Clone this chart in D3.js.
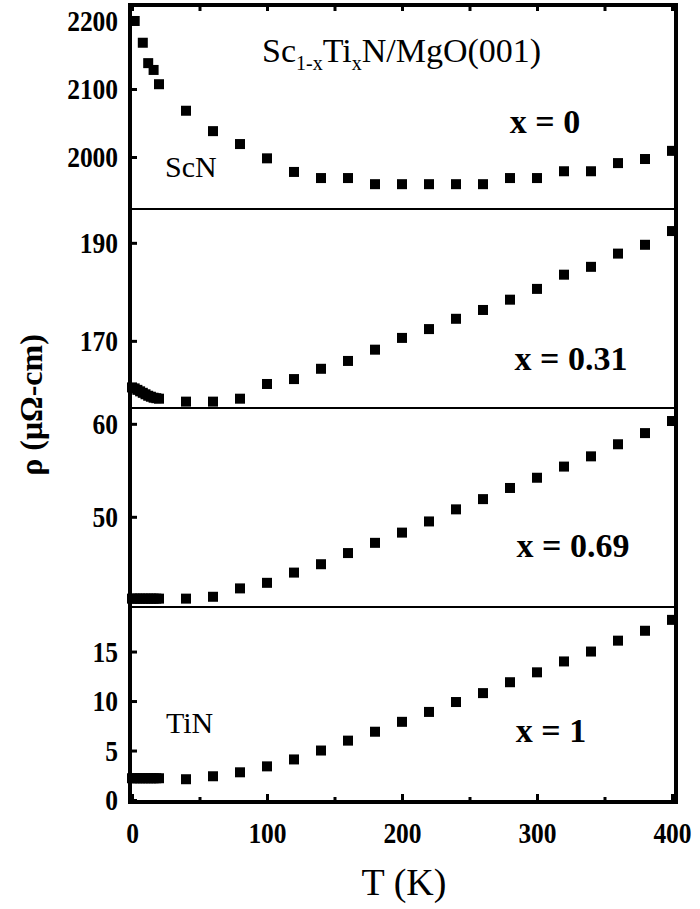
<!DOCTYPE html>
<meta charset="utf-8">
<style>
body{
    margin:0;
    background:#fff;
}
svg text{
    font-family: "Liberation Serif", "DejaVu Serif", serif;
    fill:#000;
}
.tick text{
    font-weight:bold;
    font-size:30px;
}
.tick line{
    stroke:#000;
    stroke-width:3;
}
.frame{
    fill:none;
    stroke:#000;
    stroke-width:4;
}
.divider{
    stroke:#000;
    stroke-width:2;
}
.pt{
    fill:#000;
}
</style>
<svg width="700" height="909"></svg>
<script src="https://d3js.org/d3.v7.min.js"></script>
<script>

// x = 0 (ScN)
var tempScN = [2, 8, 12, 16, 20, 40, 60, 80, 100, 120, 140, 160, 180, 200, 220, 240, 260, 280, 300, 320, 340, 360, 380, 400];
var rhoScN  = [2200, 2168, 2138, 2128, 2107, 2068, 2038, 2019, 1998, 1978, 1969, 1969, 1960, 1960, 1960, 1960, 1960, 1969, 1969, 1979, 1979, 1991, 1997, 2009];

// shared temperature grid for the three alloy / TiN films
var tempFilm = [0, 2, 4, 6, 8, 10, 12, 14, 16, 18, 20, 40, 60, 80, 100, 120, 140, 160, 180, 200, 220, 240, 260, 280, 300, 320, 340, 360, 380, 400];
var rho031 = [160.5, 160.3, 160.0, 159.7, 159.4, 159.1, 158.8, 158.6, 158.4, 158.3, 158.2, 157.6, 157.6, 158.2, 161.2, 162.2, 164.3, 165.9, 168.2, 170.6, 172.4, 174.5, 176.3, 178.4, 180.6, 183.5, 185.1, 187.8, 189.6, 192.4];
var rho069 = [41.2, 41.2, 41.2, 41.2, 41.2, 41.2, 41.2, 41.2, 41.2, 41.2, 41.2, 41.2, 41.4, 42.3, 42.9, 44.0, 44.9, 46.1, 47.2, 48.3, 49.5, 50.8, 51.9, 53.1, 54.2, 55.4, 56.5, 57.8, 59.0, 60.3];
var rhoTiN = [2.2, 2.2, 2.2, 2.2, 2.2, 2.2, 2.2, 2.2, 2.2, 2.2, 2.2, 2.1, 2.4, 2.8, 3.4, 4.1, 5.0, 6.0, 6.9, 7.9, 8.9, 9.9, 10.8, 11.9, 12.9, 14.0, 15.0, 16.1, 17.1, 18.2];

var xTicks = [0, 100, 200, 300, 400];
var xMinor = [50, 150, 250, 350];
var panelTicks = [[2000, 2100, 2200], [170, 190], [50, 60], [0, 5, 10, 15]];
var panelDomains = [[1923.5, 2223.5], [156.3, 196.9], [40.3, 61.7], [-0.2, 19.5]];
var panelLabels = ['x = 0', 'x = 0.31', 'x = 0.69', 'x = 1'];

var svg = d3.select('svg');

var mLeft = 130, mRight = 676, mTop = 5, mBottom = 802;
var dividers = [mTop, 209, 408, 607, mBottom];
var sq = 10;

var x = d3.scaleLinear().domain([0, 400]).range([132, 672]);

var series = [
    {t: tempScN, r: rhoScN},
    {t: tempFilm, r: rho031},
    {t: tempFilm, r: rho069},
    {t: tempFilm, r: rhoTiN}
];

series.forEach(function(s, i){
    var y = d3.scaleLinear()
        .domain(panelDomains[i])
        .range([dividers[i+1], dividers[i]]);

    var ax = svg.append('g')
        .attr('class', 'y-axis')
        .attr('transform', 'translate(' + mLeft + ',0)')
        .call(d3.axisLeft(y).tickValues(panelTicks[i]).tickSize(-7).tickPadding(14).tickFormat(d3.format('d')));
    ax.select('.domain').remove();
    ax.selectAll('text').attr('transform', 'scale(0.85,1)');

    var pts = s.t.map(function(t, j){ return {t: t, r: s.r[j]}; });
    svg.append('g')
        .selectAll('rect')
        .data(pts)
        .enter()
        .append('rect')
            .attr('class', 'pt')
            .attr('x', function(d){ return x(d.t) - sq/2; })
            .attr('y', function(d){ return y(d.r) - sq/2; })
            .attr('width', sq)
            .attr('height', sq);
});

// bottom axis, ticks pointing in
var xb = svg.append('g')
    .attr('transform', 'translate(0,' + mBottom + ')')
    .call(d3.axisBottom(x).tickValues(xTicks).tickSize(-8).tickPadding(20));
xb.select('.domain').remove();
xb.selectAll('text').attr('transform', 'scale(0.85,1)');

var xbm = svg.append('g')
    .attr('transform', 'translate(0,' + mBottom + ')')
    .call(d3.axisBottom(x).tickValues(xMinor).tickSize(-5).tickFormat(''));
xbm.select('.domain').remove();

// top frame ticks
var xt = svg.append('g')
    .attr('transform', 'translate(0,' + mTop + ')')
    .call(d3.axisTop(x).tickValues(xTicks.concat(xMinor)).tickSize(-6).tickFormat(''));
xt.select('.domain').remove();

svg.append('rect')
    .attr('class', 'frame')
    .attr('x', mLeft)
    .attr('y', mTop)
    .attr('width', mRight - mLeft)
    .attr('height', mBottom - mTop);

svg.selectAll('line.divider')
    .data(dividers.slice(1, 4))
    .enter()
    .append('line')
        .attr('class', 'divider')
        .attr('x1', mLeft)
        .attr('x2', mRight)
        .attr('y1', function(d){ return d; })
        .attr('y2', function(d){ return d; });

// panel labels
var labelPos = [[545, 133], [571, 370], [573, 557], [551, 742]];
svg.selectAll('text.xlab')
    .data(panelLabels)
    .enter()
    .append('text')
        .attr('class', 'xlab')
        .attr('text-anchor', 'middle')
        .attr('font-size', 34)
        .attr('font-weight', 'bold')
        .attr('transform', function(d, i){ return 'translate(' + labelPos[i][0] + ',' + labelPos[i][1] + ')'; })
        .text(function(d){ return d; });

svg.append('text')
    .attr('font-size', 30)
    .attr('x', 165)
    .attr('y', 177)
    .text('ScN');

svg.append('text')
    .attr('font-size', 30)
    .attr('x', 166)
    .attr('y', 733)
    .text('TiN');

// title with subscripts
var title = svg.append('text')
    .attr('font-size', 34)
    .attr('x', 262)
    .attr('y', 62);
title.append('tspan').text('Sc');
title.append('tspan').attr('font-size', 20).attr('dy', 8).text('1-x');
title.append('tspan').attr('dy', -8).text('Ti');
title.append('tspan').attr('font-size', 20).attr('dy', 8).text('x');
title.append('tspan').attr('dy', -8).text('N/MgO(001)');

svg.append('text')
    .attr('font-size', 32)
    .attr('font-weight', 'bold')
    .attr('text-anchor', 'middle')
    .attr('transform', 'translate(42,405) rotate(-90)')
    .text('ρ (μΩ-cm)');

svg.append('text')
    .attr('font-size', 38)
    .attr('text-anchor', 'middle')
    .attr('x', 404)
    .attr('y', 895)
    .text('T (K)');

</script>
